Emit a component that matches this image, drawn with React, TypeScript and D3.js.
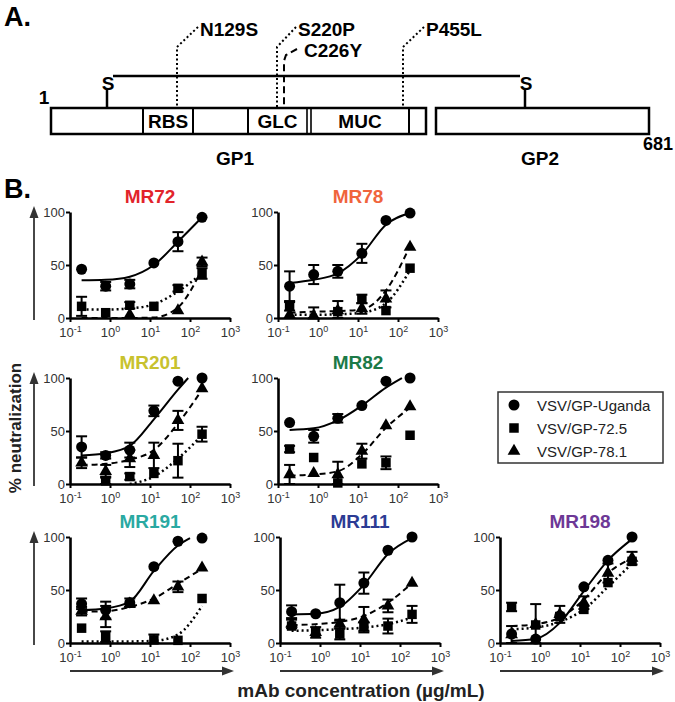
import React, { useEffect, useRef } from "react";
import * as d3 from "d3";

// doses used in every neutralization panel (ug/mL, 4-fold dilution)
const doses = [0.195, 0.78, 3.125, 12.5, 50, 200];
const antibodies = ["MR72", "MR78", "MR201", "MR82", "MR191", "MR111", "MR198"];
const titleColors = ["#e2242b", "#f0643c", "#c8c22e", "#1c7a47", "#2aa9a2", "#2c3b94", "#6d3896"];
const seriesNames = ["VSV/GP-Uganda", "VSV/GP-72.5", "VSV/GP-78.1"];
const xTicks = [0.1, 1, 10, 100, 1000];
const yTicks = [0, 50, 100];

const ugandaMeans = [
  [46, 30, 32, 52, 72, 95],
  [30, 41, 44, 61, 92, 99],
  [35, 27, 32, 69, 97, 100],
  [58, 45, 62, 74, 97, 100],
  [37, 31, 38, 72, 96, 99],
  [29.5, 27.6, 38, 56.5, 87.5, 100],
  [8.4, 3.7, 25.5, 53, 78, 100],
];
const ugandaErrors = [
  [0, 4, 4, 0, 9, 0],
  [14, 9, 6, 9, 0, 0],
  [10, 3, 7, 5, 0, 0],
  [0, 6, 4, 0, 0, 0],
  [5, 8, 4, 0, 0, 0],
  [6, 0, 17, 10, 0, 0],
  [0, 0, 0, 0, 0, 0],
];
const gp725Means = [
  [11, 5, 12, 11, 28, 42],
  [11, null, 6, 18, 7, 47],
  [null, 3, 7, 10, 22, 47],
  [33, 25, 1, 19, 20, 46],
  [14, 6, null, 3, 2.5, 42],
  [16, 10, 8.4, 15.5, 16, 27],
  [34, 17, 25, 31.7, 57, 77],
];
const gp725Errors = [
  [9, 0, 3, 0, 3, 5],
  [4, 0, 0, 4, 0, 0],
  [0, 4, 3, 0, 16, 7],
  [3, 0, 0, 0, 6, 0],
  [0, 5, 0, 5, 0, 0],
  [0, 5, 5, 4, 7, 8],
  [4, 0, 0, 0, 0, 0],
];
const gp781Means = [
  [null, null, 3, null, 7, 53],
  [3, 2, 7, 9, 18, 67],
  [20, 12, 24, 27, 60, 90],
  [9, 10, 9, 31, 55, 73],
  [30, 25, 37, 40, 53, 71],
  [18, 10, 18, 22, 35, 56.5],
  [8, 17.7, 27, 38, 66, 80],
];
const gp781Errors = [
  [0, 0, 0, 0, 0, 4],
  [0, 8, 9, 5, 8, 0],
  [5, 6, 8, 12, 9, 0],
  [9, 0, 12, 7, 0, 0],
  [4, 10, 0, 0, 5, 0],
  [4, 0, 4, 12, 6, 0],
  [8, 19, 8, 6, 9, 6],
];

// fitted curves as [dose, %] points
const ugandaFits = [
  [[0.195, 35.5], [0.78, 36], [3.125, 39], [12.5, 50], [50, 72], [200, 95]],
  [[0.195, 33], [0.78, 36], [3.125, 42], [12.5, 60], [50, 88], [200, 99]],
  [[0.195, 27], [0.78, 29], [3.125, 36], [12.5, 61], [50, 89], [90, 100]],
  [[0.195, 51], [0.78, 52.5], [3.125, 60], [12.5, 74], [50, 91], [125, 100]],
  [[0.195, 31], [0.78, 32.6], [3.125, 39], [12.5, 68], [50, 92], [100, 99]],
  [[0.195, 27], [0.78, 27.6], [3.125, 34], [12.5, 55], [50, 84], [200, 99]],
  [[0.195, 2], [0.78, 4], [3.125, 19], [12.5, 49], [50, 78], [200, 98]],
];
const gp725Fits = [
  [[0.195, 8], [0.78, 8], [3.125, 9], [12.5, 13], [50, 25], [200, 42]],
  [[0.195, 3], [0.78, 3], [3.125, 3.5], [12.5, 5], [50, 14], [200, 45]],
  [[3.125, 0], [12.5, 7], [50, 24], [200, 46]],
  [],
  [[0.195, 1.5], [0.78, 1.5], [3.125, 1.5], [12.5, 2], [50, 8], [200, 35]],
  [[0.195, 11.5], [0.78, 12], [3.125, 13], [12.5, 14.6], [50, 17.7], [200, 24]],
  [[0.195, 13], [0.78, 14.6], [3.125, 20], [12.5, 31.7], [50, 53], [200, 75]],
];
const gp781Fits = [
  [[0.195, 0], [3.125, 0], [12.5, 0.5], [50, 10], [200, 46]],
  [[0.195, 5], [0.78, 6], [3.125, 6.5], [12.5, 8], [50, 26], [200, 68]],
  [[0.195, 18], [0.78, 19], [3.125, 23], [12.5, 32], [50, 57], [200, 89]],
  [[0.195, 8], [0.78, 9], [3.125, 12], [12.5, 28], [50, 53], [200, 72]],
  [[0.195, 29.5], [0.78, 30], [3.125, 34], [12.5, 42], [50, 56], [200, 70]],
  [[0.195, 17], [0.78, 17.7], [3.125, 20], [12.5, 25.5], [50, 38], [200, 56.5]],
  [[0.195, 16], [0.78, 17.7], [3.125, 24], [12.5, 41], [50, 66], [200, 80]],
];

// panel A schematic
const domainLabels = ["RBS", "GLC", "MUC"];
const mutations = ["N129S", "S220P", "C226Y", "P455L"];

export default function App() {
  const ref = useRef<SVGSVGElement>(null);

  useEffect(() => {
    const svg = d3.select(ref.current);
    svg.selectAll("*").remove();
    svg.attr("font-family", "'Liberation Sans', Arial, Helvetica, sans-serif");

    // ---------- A. ----------
    const a = svg.append("g");
    a.append("text").attr("x", 4).attr("y", 26).attr("font-size", 27).attr("font-weight", "bold").text("A.");

    const boxTop = 108, boxH = 26;
    a.append("rect").attr("x", 51).attr("y", boxTop).attr("width", 375).attr("height", boxH)
      .attr("fill", "#fff").attr("stroke", "#000").attr("stroke-width", 2.5);
    a.append("rect").attr("x", 436).attr("y", boxTop).attr("width", 213).attr("height", boxH)
      .attr("fill", "#fff").attr("stroke", "#000").attr("stroke-width", 2.5);
    const dividers = [143, 193, 248, 307, 311, 409];
    a.selectAll(".div").data(dividers).join("line")
      .attr("x1", d => d).attr("x2", d => d).attr("y1", boxTop).attr("y2", boxTop + boxH)
      .attr("stroke", "#000").attr("stroke-width", (d, i) => (i === 3 || i === 4 ? 1.6 : 2));
    const domainX = [168, 277.5, 360];
    a.selectAll(".dl").data(domainLabels).join("text")
      .attr("x", (d, i) => domainX[i]).attr("y", 128).attr("text-anchor", "middle")
      .attr("font-size", 19).attr("font-weight", "bold").text(d => d);

    // disulfide bond
    a.append("line").attr("x1", 113).attr("x2", 520).attr("y1", 76).attr("y2", 76)
      .attr("stroke", "#000").attr("stroke-width", 2.5);
    [107, 525].forEach(x => {
      a.append("text").attr("x", x + 1).attr("y", 89.5).attr("text-anchor", "middle")
        .attr("font-size", 19).attr("font-weight", "bold").text("S");
      a.append("line").attr("x1", x).attr("x2", x).attr("y1", 90).attr("y2", boxTop)
        .attr("stroke", "#000").attr("stroke-width", 2.5);
    });

    const mutX = [177, 277, 284, 403];
    const mutTextX = [200, 298, 304, 426];
    const mutTextY = [36, 36, 57, 36];
    mutations.forEach((m, i) => {
      a.append("text").attr("x", mutTextX[i]).attr("y", mutTextY[i])
        .attr("font-size", 19).attr("font-weight", "bold").text(m);
      const p = i === 2
        ? `M${mutTextX[i] - 7},${mutTextY[i] - 8}L${mutX[i] + 2},${mutTextY[i] - 2}L${mutX[i]},${mutTextY[i] + 4}L${mutX[i]},${boxTop}`
        : `M${mutTextX[i] - 2},${mutTextY[i] - 9}L${mutX[i]},${mutTextY[i] + 11}L${mutX[i]},${boxTop}`;
      a.append("path").attr("d", p).attr("fill", "none").attr("stroke", "#000")
        .attr("stroke-width", 2).attr("stroke-dasharray", i === 2 ? "7,4" : "2,2.5");
    });

    a.append("text").attr("x", 44).attr("y", 104).attr("text-anchor", "middle")
      .attr("font-size", 19).attr("font-weight", "bold").text("1");
    a.append("text").attr("x", 673).attr("y", 150).attr("text-anchor", "end")
      .attr("font-size", 18).attr("font-weight", "bold").text("681");
    a.append("text").attr("x", 235).attr("y", 165).attr("text-anchor", "middle")
      .attr("font-size", 19).attr("font-weight", "bold").text("GP1");
    a.append("text").attr("x", 540).attr("y", 165).attr("text-anchor", "middle")
      .attr("font-size", 19).attr("font-weight", "bold").text("GP2");

    // ---------- B. ----------
    svg.append("text").attr("x", 4).attr("y", 198).attr("font-size", 27).attr("font-weight", "bold").text("B.");

    const panelLeft = [70, 278, 70, 278, 70, 280, 500];
    const panelZero = [318, 318, 484, 484, 643, 643, 643];
    const PW = 160, PH = 106;

    const symbols = [d3.symbolCircle, d3.symbolSquare, d3.symbolTriangle];
    const symbolSize = [95, 90, 70];
    const dashes = [null, "2,3", "6,4"];
    const lineW = [2, 2.5, 2];

    antibodies.forEach((name, k) => {
      const x0 = panelLeft[k], y0 = panelZero[k];
      const x = d3.scaleLog().domain([0.1, 1000]).range([x0, x0 + PW]);
      const y = d3.scaleLinear().domain([0, 100]).range([y0, y0 - PH]);
      const g = svg.append("g");

      g.append("text").attr("x", x0 + PW / 2).attr("y", y0 - PH - 9).attr("text-anchor", "middle")
        .attr("font-size", 19).attr("font-weight", "bold").attr("fill", titleColors[k]).text(name);

      const xa = g.append("g").attr("transform", `translate(0,${y0})`)
        .call(d3.axisBottom(x).tickValues(xTicks).tickSize(4).tickSizeOuter(0).tickPadding(3).tickFormat(() => ""));
      xa.selectAll(".tick text").each(function (d: any) {
        const t = d3.select(this);
        t.attr("font-size", 13).attr("fill", "#333").attr("dy", "0.95em");
        t.append("tspan").text("10");
        t.append("tspan").attr("font-size", 9).attr("dy", -5).text(String(Math.round(Math.log10(d))));
      });
      const ya = g.append("g").attr("transform", `translate(${x0},0)`)
        .call(d3.axisLeft(y).tickValues(yTicks).tickSize(4).tickSizeOuter(0).tickPadding(1));
      ya.selectAll(".tick text").attr("font-size", 13).attr("fill", "#333");
      [xa, ya].forEach(ax => {
        ax.select(".domain").attr("stroke-width", 2.6).attr("stroke", "#000");
        ax.selectAll(".tick line").attr("stroke-width", 2).attr("stroke", "#000");
      });

      const means = [ugandaMeans[k], gp725Means[k], gp781Means[k]];
      const errs = [ugandaErrors[k], gp725Errors[k], gp781Errors[k]];
      const fits = [ugandaFits[k], gp725Fits[k], gp781Fits[k]];

      const line = d3.line<number[]>().x(d => x(d[0])).y(d => y(d[1])).curve(d3.curveMonotoneX);
      fits.forEach((f, s) => {
        if (!f.length) return;
        g.append("path").attr("d", line(f as number[][])).attr("fill", "none").attr("stroke", "#000")
          .attr("stroke-width", lineW[s]).attr("stroke-dasharray", dashes[s]);
      });

      means.forEach((m, s) => {
        m.forEach((v, i) => {
          if (v == null) return;
          const e = errs[s][i];
          const cx = x(doses[i]);
          if (e > 0) {
            const top = y(Math.min(v + e, 100)), bot = y(Math.max(v - e, 0));
            g.append("line").attr("x1", cx).attr("x2", cx).attr("y1", top).attr("y2", bot)
              .attr("stroke", "#000").attr("stroke-width", 2);
            [top, bot].forEach(yy => g.append("line").attr("x1", cx - 5.5).attr("x2", cx + 5.5)
              .attr("y1", yy).attr("y2", yy).attr("stroke", "#000").attr("stroke-width", 2));
          }
          g.append("path").attr("d", d3.symbol(symbols[s], symbolSize[s])())
            .attr("transform", `translate(${cx},${y(v)})`).attr("fill", "#000");
        });
      });
    });

    // arrows
    const arrowHead = (tx: number, ty: number, dir: "up" | "right") => {
      const p = dir === "up"
        ? `M${tx},${ty}L${tx - 4.5},${ty + 12}L${tx + 4.5},${ty + 12}Z`
        : `M${tx},${ty}L${tx - 12},${ty - 4.5}L${tx - 12},${ty + 4.5}Z`;
      svg.append("path").attr("d", p).attr("fill", "#333");
    };
    [318, 484, 643].forEach(z => {
      svg.append("line").attr("x1", 34).attr("x2", 34).attr("y1", z + 2).attr("y2", z - 104)
        .attr("stroke", "#333").attr("stroke-width", 1.8);
      arrowHead(34, z - 112, "up");
    });
    [70, 280, 500].forEach(l => {
      svg.append("line").attr("x1", l).attr("x2", l + 156).attr("y1", 671).attr("y2", 671)
        .attr("stroke", "#333").attr("stroke-width", 1.8);
      arrowHead(l + 164, 671, "right");
    });

    svg.append("text").attr("transform", "translate(21,428) rotate(-90)").attr("text-anchor", "middle")
      .attr("font-size", 17).attr("font-weight", "bold").attr("fill", "#222").text("% neutralization");
    svg.append("text").attr("x", 361).attr("y", 697).attr("text-anchor", "middle")
      .attr("font-size", 19).attr("font-weight", "bold").attr("fill", "#222").text("mAb concentration (µg/mL)");

    // legend
    const lg = svg.append("g");
    lg.append("rect").attr("x", 498).attr("y", 392).attr("width", 165).attr("height", 71)
      .attr("fill", "#fff").attr("stroke", "#333").attr("stroke-width", 1.5);
    seriesNames.forEach((n, s) => {
      const yy = 405 + s * 23;
      lg.append("path").attr("d", d3.symbol(symbols[s], symbolSize[s])())
        .attr("transform", `translate(514,${yy})`).attr("fill", "#000");
      lg.append("text").attr("x", 537).attr("y", yy + 5.5).attr("font-size", 15).attr("fill", "#222").text(n);
    });
  }, []);

  return (
    <svg ref={ref} width={675} height={702}
      style={{ position: "absolute", left: 0, top: 0, background: "#fff" }} />
  );
}
